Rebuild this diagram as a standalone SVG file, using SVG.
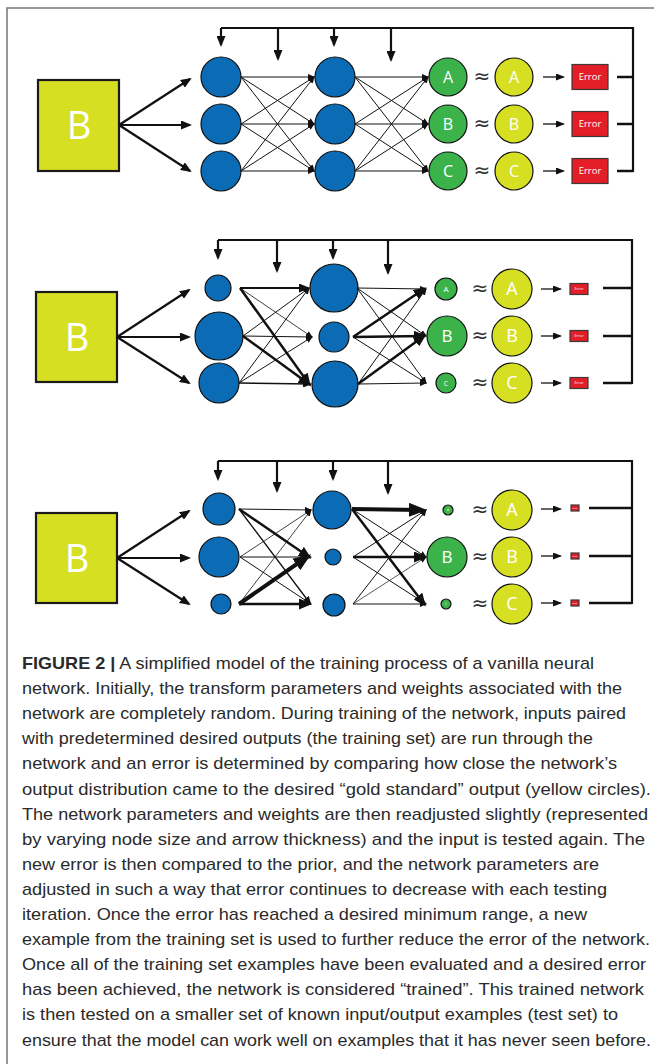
<svg xmlns="http://www.w3.org/2000/svg" width="654" height="1064" viewBox="0 0 654 1064">
<defs>
<style>
.nb{fill:#0b6bb5;stroke:#111;stroke-width:1.2}
.ng{fill:#3bb34a;stroke:#111;stroke-width:1.2}
.ny{fill:#d7df23;stroke:#111;stroke-width:1.2}
.inp{fill:#d6df22;stroke:#1a1a1a;stroke-width:2.2}
.err{fill:#e41e26;stroke:#3a3a3a;stroke-width:1.2}
.lbl{font-family:"Open Sans","Liberation Sans",sans-serif;fill:#fff;text-anchor:middle}
.ax{font-family:"DejaVu Sans","Liberation Sans",sans-serif;font-size:20px;fill:#333;text-anchor:middle}
.c{stroke:#111;fill:none}
.fb{stroke:#111;stroke-width:2.2;fill:none}
.tk{stroke:#111;stroke-width:2.5;fill:none}
.cap{font-family:"Liberation Sans",Arial,sans-serif;font-size:17px;fill:#2a2a2a}
</style>
<marker id="s" markerUnits="userSpaceOnUse" markerWidth="7" markerHeight="6" refX="6" refY="3" orient="auto"><path d="M0,0 L7,3 L0,6 z" fill="#111"/></marker>
<marker id="s2" markerUnits="userSpaceOnUse" markerWidth="9" markerHeight="7" refX="7.5" refY="3.5" orient="auto"><path d="M0,0 L9,3.5 L0,7 z" fill="#111"/></marker>
<marker id="m" markerUnits="userSpaceOnUse" markerWidth="11" markerHeight="9" refX="9" refY="4.5" orient="auto"><path d="M0,0 L11,4.5 L0,9 z" fill="#111"/></marker>
<marker id="l" markerUnits="userSpaceOnUse" markerWidth="13" markerHeight="11" refX="10" refY="5.5" orient="auto"><path d="M0,0 L13,5.5 L0,11 z" fill="#111"/></marker>
<marker id="xl" markerUnits="userSpaceOnUse" markerWidth="18" markerHeight="14" refX="13" refY="7" orient="auto"><path d="M0,0 L18,7 L0,14 z" fill="#111"/></marker>
</defs>
<rect width="654" height="1064" fill="#fff"/>
<path d="M7,1064 V8 H654" fill="none" stroke="#777" stroke-width="1.5"/>

<!-- ===== Panel 1 nodes ===== -->
<g id="p1-input"><rect class="inp" x="38" y="80" width="81" height="91"/><text class="lbl" x="79" y="138.5" font-size="38">B</text></g>
<g id="p1-h1-1"><circle class="nb" cx="221" cy="77" r="20"/></g>
<g id="p1-h1-2"><circle class="nb" cx="221" cy="124" r="20"/></g>
<g id="p1-h1-3"><circle class="nb" cx="221" cy="171" r="20"/></g>
<g id="p1-h2-1"><circle class="nb" cx="335" cy="77" r="20"/></g>
<g id="p1-h2-2"><circle class="nb" cx="335" cy="124" r="20"/></g>
<g id="p1-h2-3"><circle class="nb" cx="335" cy="171" r="20"/></g>
<g id="p1-out-a"><circle class="ng" cx="448" cy="77" r="19"/><text class="lbl" x="448" y="82.7" font-size="16">A</text></g>
<g id="p1-out-b"><circle class="ng" cx="448" cy="124" r="19"/><text class="lbl" x="448" y="129.7" font-size="16">B</text></g>
<g id="p1-out-c"><circle class="ng" cx="448" cy="171" r="19"/><text class="lbl" x="448" y="176.7" font-size="16">C</text></g>
<g id="p1-approx"><text class="ax" x="482" y="83">≈</text><text class="ax" x="482" y="130">≈</text><text class="ax" x="482" y="177">≈</text></g>
<g id="p1-gold-a"><circle class="ny" cx="514" cy="77" r="19"/><text class="lbl" x="514" y="82.7" font-size="16">A</text></g>
<g id="p1-gold-b"><circle class="ny" cx="514" cy="124" r="19"/><text class="lbl" x="514" y="129.7" font-size="16">B</text></g>
<g id="p1-gold-c"><circle class="ny" cx="514" cy="171" r="19"/><text class="lbl" x="514" y="176.7" font-size="16">C</text></g>
<g id="p1-err-a"><rect class="err" x="572" y="64.5" width="36" height="25"/><text class="lbl" x="590" y="80.3" font-size="9.5">Error</text></g>
<g id="p1-err-b"><rect class="err" x="572" y="111.5" width="36" height="25"/><text class="lbl" x="590" y="127.3" font-size="9.5">Error</text></g>
<g id="p1-err-c"><rect class="err" x="572" y="158.5" width="36" height="25"/><text class="lbl" x="590" y="174.3" font-size="9.5">Error</text></g>

<!-- ===== Panel 2 nodes ===== -->
<g id="p2-input"><rect class="inp" x="36" y="292" width="81" height="90"/><text class="lbl" x="77" y="350.5" font-size="38">B</text></g>
<g id="p2-h1-1"><circle class="nb" cx="218" cy="288" r="13"/></g>
<g id="p2-h1-2"><circle class="nb" cx="219" cy="336" r="24"/></g>
<g id="p2-h1-3"><circle class="nb" cx="219" cy="383" r="20"/></g>
<g id="p2-h2-1"><circle class="nb" cx="334" cy="288" r="24"/></g>
<g id="p2-h2-2"><circle class="nb" cx="334" cy="337" r="15"/></g>
<g id="p2-h2-3"><circle class="nb" cx="335" cy="384" r="23"/></g>
<g id="p2-out-a"><circle class="ng" cx="446" cy="289" r="11"/><text class="lbl" x="446" y="291.8" font-size="8">A</text></g>
<g id="p2-out-b"><circle class="ng" cx="447" cy="336" r="20"/><text class="lbl" x="447" y="342.1" font-size="17">B</text></g>
<g id="p2-out-c"><circle class="ng" cx="446" cy="383" r="10"/><text class="lbl" x="446" y="385.5" font-size="7">C</text></g>
<g id="p2-approx"><text class="ax" x="480" y="295">≈</text><text class="ax" x="480" y="342">≈</text><text class="ax" x="480" y="389">≈</text></g>
<g id="p2-gold-a"><circle class="ny" cx="512" cy="289" r="20"/><text class="lbl" x="512" y="295.4" font-size="18">A</text></g>
<g id="p2-gold-b"><circle class="ny" cx="512" cy="336" r="20"/><text class="lbl" x="512" y="342.4" font-size="18">B</text></g>
<g id="p2-gold-c"><circle class="ny" cx="512" cy="383" r="20"/><text class="lbl" x="512" y="389.4" font-size="18">C</text></g>
<g id="p2-err-a"><rect class="err" x="570" y="283.5" width="18" height="11"/><text class="lbl" x="579" y="290.2" font-size="3.8">Error</text></g>
<g id="p2-err-b"><rect class="err" x="570" y="330.5" width="18" height="11"/><text class="lbl" x="579" y="337.2" font-size="3.8">Error</text></g>
<g id="p2-err-c"><rect class="err" x="570" y="377.5" width="18" height="11"/><text class="lbl" x="579" y="384.2" font-size="3.8">Error</text></g>

<!-- ===== Panel 3 nodes ===== -->
<g id="p3-input"><rect class="inp" x="36" y="513" width="81" height="90"/><text class="lbl" x="77" y="571.5" font-size="38">B</text></g>
<g id="p3-h1-1"><circle class="nb" cx="219" cy="509" r="16"/></g>
<g id="p3-h1-2"><circle class="nb" cx="219" cy="557" r="20"/></g>
<g id="p3-h1-3"><circle class="nb" cx="221" cy="604" r="10"/></g>
<g id="p3-h2-1"><circle class="nb" cx="332" cy="510" r="19"/></g>
<g id="p3-h2-2"><circle class="nb" cx="333" cy="557" r="8"/></g>
<g id="p3-h2-3"><circle class="nb" cx="334" cy="605" r="11"/></g>
<g id="p3-out-a"><circle class="ng" cx="448" cy="510" r="5"/><text class="lbl" x="448" y="511.1" font-size="3">A</text></g>
<g id="p3-out-b"><circle class="ng" cx="447" cy="557" r="20"/><text class="lbl" x="447" y="563.1" font-size="17">B</text></g>
<g id="p3-out-c"><circle class="ng" cx="446" cy="604" r="5"/><text class="lbl" x="446" y="605.1" font-size="3">C</text></g>
<g id="p3-approx"><text class="ax" x="480" y="516">≈</text><text class="ax" x="480" y="563">≈</text><text class="ax" x="480" y="610">≈</text></g>
<g id="p3-gold-a"><circle class="ny" cx="512" cy="510" r="20"/><text class="lbl" x="512" y="516.4" font-size="18">A</text></g>
<g id="p3-gold-b"><circle class="ny" cx="512" cy="557" r="20"/><text class="lbl" x="512" y="563.4" font-size="18">B</text></g>
<g id="p3-gold-c"><circle class="ny" cx="512" cy="604" r="20"/><text class="lbl" x="512" y="610.4" font-size="18">C</text></g>
<g id="p3-err-a"><rect class="err" x="571" y="505" width="8" height="6"/><text class="lbl" x="575" y="508.7" font-size="2">Error</text></g>
<g id="p3-err-b"><rect class="err" x="571" y="553" width="8" height="6"/><text class="lbl" x="575" y="556.7" font-size="2">Error</text></g>
<g id="p3-err-c"><rect class="err" x="571" y="600" width="8" height="6"/><text class="lbl" x="575" y="603.7" font-size="2">Error</text></g>

<!-- ===== Connectors ===== -->
<g id="connectors">
<!-- panel 1 -->
<g class="c" stroke-width="2.2">
<line x1="119" y1="125" x2="190" y2="79" marker-end="url(#m)"/>
<line x1="119" y1="125" x2="190" y2="125" marker-end="url(#m)"/>
<line x1="119" y1="125" x2="190" y2="171" marker-end="url(#m)"/>
</g>
<g class="c" stroke-width="1">
<line x1="241" y1="77" x2="314" y2="77" marker-end="url(#s)"/>
<line x1="241" y1="77" x2="314" y2="124" marker-end="url(#s)"/>
<line x1="241" y1="77" x2="314" y2="171" marker-end="url(#s)"/>
<line x1="241" y1="124" x2="314" y2="77" marker-end="url(#s)"/>
<line x1="241" y1="124" x2="314" y2="124" marker-end="url(#s)"/>
<line x1="241" y1="124" x2="314" y2="171" marker-end="url(#s)"/>
<line x1="241" y1="171" x2="314" y2="77" marker-end="url(#s)"/>
<line x1="241" y1="171" x2="314" y2="124" marker-end="url(#s)"/>
<line x1="241" y1="171" x2="314" y2="171" marker-end="url(#s)"/>
<line x1="355" y1="77" x2="428" y2="77" marker-end="url(#s)"/>
<line x1="355" y1="77" x2="428" y2="124" marker-end="url(#s)"/>
<line x1="355" y1="77" x2="428" y2="171" marker-end="url(#s)"/>
<line x1="355" y1="124" x2="428" y2="77" marker-end="url(#s)"/>
<line x1="355" y1="124" x2="428" y2="124" marker-end="url(#s)"/>
<line x1="355" y1="124" x2="428" y2="171" marker-end="url(#s)"/>
<line x1="355" y1="171" x2="428" y2="77" marker-end="url(#s)"/>
<line x1="355" y1="171" x2="428" y2="124" marker-end="url(#s)"/>
<line x1="355" y1="171" x2="428" y2="171" marker-end="url(#s)"/>
</g>
<g class="c" stroke-width="1.3">
<line x1="543" y1="77" x2="563.5" y2="77" marker-end="url(#s2)"/>
<line x1="543" y1="124" x2="563.5" y2="124" marker-end="url(#s2)"/>
<line x1="543" y1="171" x2="563.5" y2="171" marker-end="url(#s2)"/>
</g>
<path class="fb" d="M221,28 H633 V172"/>
<g class="fb">
<line x1="221" y1="28" x2="221" y2="45" marker-end="url(#m)"/>
<line x1="278" y1="28" x2="278" y2="59" marker-end="url(#m)"/>
<line x1="334" y1="28" x2="334" y2="45" marker-end="url(#m)"/>
<line x1="391" y1="28" x2="391" y2="60" marker-end="url(#m)"/>
</g>
<g class="tk">
<line x1="617" y1="77" x2="633" y2="77"/>
<line x1="617" y1="124" x2="633" y2="124"/>
<line x1="617" y1="171" x2="633" y2="171"/>
</g>

<!-- panel 2 -->
<g class="c" stroke-width="2.2">
<line x1="117" y1="337" x2="189" y2="290" marker-end="url(#m)"/>
<line x1="117" y1="337" x2="189" y2="337" marker-end="url(#m)"/>
<line x1="117" y1="337" x2="189" y2="383" marker-end="url(#m)"/>
</g>
<g class="c">
<line x1="240" y1="288" x2="312" y2="337" stroke-width="0.8" marker-end="url(#s)"/>
<line x1="243" y1="336" x2="309" y2="288" stroke-width="1" marker-end="url(#s)"/>
<line x1="243" y1="336" x2="312" y2="337" stroke-width="1" marker-end="url(#s)"/>
<line x1="239" y1="383" x2="309" y2="288" stroke-width="1" marker-end="url(#s)"/>
<line x1="239" y1="383" x2="312" y2="337" stroke-width="1" marker-end="url(#s)"/>
<line x1="239" y1="383" x2="310.5" y2="384" stroke-width="1.5" marker-end="url(#s2)"/>
<line x1="240" y1="288" x2="308" y2="288" stroke-width="2" marker-end="url(#m)"/>
<line x1="240" y1="288" x2="309" y2="384" stroke-width="2.5" marker-end="url(#l)"/>
<line x1="243" y1="336" x2="309" y2="384" stroke-width="2.5" marker-end="url(#l)"/>

<line x1="357" y1="288" x2="426" y2="289" stroke-width="1" marker-end="url(#s)"/>
<line x1="357" y1="288" x2="426" y2="336" stroke-width="1" marker-end="url(#s)"/>
<line x1="357" y1="288" x2="426" y2="383" stroke-width="1" marker-end="url(#s)"/>
<line x1="353" y1="337" x2="426" y2="383" stroke-width="1" marker-end="url(#s)"/>
<line x1="358" y1="384" x2="426" y2="289" stroke-width="1" marker-end="url(#s)"/>
<line x1="358" y1="384" x2="426" y2="383" stroke-width="1" marker-end="url(#s)"/>
<line x1="353" y1="337" x2="424" y2="289" stroke-width="2.5" marker-end="url(#l)"/>
<line x1="353" y1="337" x2="424" y2="336" stroke-width="2.5" marker-end="url(#l)"/>
<line x1="358" y1="384" x2="424" y2="336" stroke-width="2.5" marker-end="url(#l)"/>
</g>
<g class="c" stroke-width="1.3">
<line x1="541" y1="289" x2="560.5" y2="289" marker-end="url(#s2)"/>
<line x1="541" y1="336" x2="560.5" y2="336" marker-end="url(#s2)"/>
<line x1="541" y1="383" x2="560.5" y2="383" marker-end="url(#s2)"/>
</g>
<path class="fb" d="M218,240 H632 V384"/>
<g class="fb">
<line x1="218" y1="240" x2="218" y2="258" marker-end="url(#m)"/>
<line x1="277" y1="240" x2="277" y2="271" marker-end="url(#m)"/>
<line x1="333" y1="240" x2="333" y2="258" marker-end="url(#m)"/>
<line x1="388" y1="240" x2="388" y2="273" marker-end="url(#m)"/>
</g>
<g class="tk">
<line x1="603" y1="288" x2="632" y2="288"/>
<line x1="603" y1="336" x2="632" y2="336"/>
<line x1="603" y1="383" x2="632" y2="383"/>
</g>

<!-- panel 3 -->
<g class="c" stroke-width="2.2">
<line x1="117" y1="558" x2="189" y2="511" marker-end="url(#m)"/>
<line x1="117" y1="558" x2="189" y2="558" marker-end="url(#m)"/>
<line x1="117" y1="558" x2="189" y2="604" marker-end="url(#m)"/>
</g>
<g class="c">
<line x1="239" y1="509" x2="311" y2="510" stroke-width="1" marker-end="url(#s)"/>
<line x1="239" y1="509" x2="310.5" y2="604" stroke-width="1.3" marker-end="url(#s2)"/>
<line x1="240" y1="557" x2="311" y2="510" stroke-width="0.8" marker-end="url(#s)"/>
<line x1="240" y1="557" x2="311" y2="557" stroke-width="1" marker-end="url(#s)"/>
<line x1="240" y1="557" x2="311" y2="604" stroke-width="1" marker-end="url(#s)"/>
<line x1="239" y1="604" x2="311" y2="510" stroke-width="0.8" marker-end="url(#s)"/>
<line x1="239" y1="509" x2="309" y2="557" stroke-width="2.5" marker-end="url(#l)"/>
<line x1="239" y1="604" x2="309" y2="604" stroke-width="2.5" marker-end="url(#l)"/>
<line x1="239" y1="604" x2="307" y2="557" stroke-width="4" marker-end="url(#xl)"/>

<line x1="352" y1="509" x2="426" y2="557" stroke-width="1" marker-end="url(#s)"/>
<line x1="353" y1="557" x2="426" y2="510" stroke-width="1" marker-end="url(#s)"/>
<line x1="353" y1="557" x2="426" y2="604" stroke-width="1" marker-end="url(#s)"/>
<line x1="353" y1="604" x2="426" y2="510" stroke-width="1" marker-end="url(#s)"/>
<line x1="353" y1="604" x2="426" y2="557" stroke-width="0.7" marker-end="url(#s)"/>
<line x1="353" y1="604" x2="426" y2="604" stroke-width="1" marker-end="url(#s)"/>
<line x1="352" y1="509" x2="424" y2="604" stroke-width="2.5" marker-end="url(#l)"/>
<line x1="353" y1="557" x2="424" y2="557" stroke-width="2.5" marker-end="url(#l)"/>
<line x1="352" y1="509" x2="422" y2="510" stroke-width="4" marker-end="url(#xl)"/>
</g>
<g class="c" stroke-width="1.3">
<line x1="541" y1="509" x2="560.5" y2="509" marker-end="url(#s2)"/>
<line x1="541" y1="556" x2="560.5" y2="556" marker-end="url(#s2)"/>
<line x1="541" y1="603" x2="560.5" y2="603" marker-end="url(#s2)"/>
</g>
<path class="fb" d="M218,461 H632 V604"/>
<g class="fb">
<line x1="218" y1="461" x2="218" y2="479" marker-end="url(#m)"/>
<line x1="277" y1="461" x2="277" y2="491" marker-end="url(#m)"/>
<line x1="333" y1="461" x2="333" y2="479" marker-end="url(#m)"/>
<line x1="388" y1="461" x2="388" y2="493" marker-end="url(#m)"/>
</g>
<g class="tk">
<line x1="589" y1="508" x2="632" y2="508"/>
<line x1="589" y1="556" x2="632" y2="556"/>
<line x1="589" y1="603" x2="632" y2="603"/>
</g>
</g>

<!-- ===== Caption ===== -->
<g id="caption" class="cap">
<text x="22" y="669" textLength="572" lengthAdjust="spacingAndGlyphs"><tspan font-weight="bold">FIGURE 2 |</tspan> A simplified model of the training process of a vanilla neural</text>
<text x="22" y="694.1" textLength="600" lengthAdjust="spacingAndGlyphs">network. Initially, the transform parameters and weights associated with the</text>
<text x="22" y="719.2" textLength="604" lengthAdjust="spacingAndGlyphs">network are completely random. During training of the network, inputs paired</text>
<text x="22" y="744.3" textLength="571" lengthAdjust="spacingAndGlyphs">with predetermined desired outputs (the training set) are run through the</text>
<text x="22" y="769.4" textLength="595" lengthAdjust="spacingAndGlyphs">network and an error is determined by comparing how close the network’s</text>
<text x="22" y="794.5" textLength="629" lengthAdjust="spacingAndGlyphs">output distribution came to the desired “gold standard” output (yellow circles).</text>
<text x="22" y="819.6" textLength="626" lengthAdjust="spacingAndGlyphs">The network parameters and weights are then readjusted slightly (represented</text>
<text x="22" y="844.7" textLength="623" lengthAdjust="spacingAndGlyphs">by varying node size and arrow thickness) and the input is tested again. The</text>
<text x="22" y="869.8" textLength="577" lengthAdjust="spacingAndGlyphs">new error is then compared to the prior, and the network parameters are</text>
<text x="22" y="894.9" textLength="585" lengthAdjust="spacingAndGlyphs">adjusted in such a way that error continues to decrease with each testing</text>
<text x="22" y="920" textLength="565" lengthAdjust="spacingAndGlyphs">iteration. Once the error has reached a desired minimum range, a new</text>
<text x="22" y="945.1" textLength="628" lengthAdjust="spacingAndGlyphs">example from the training set is used to further reduce the error of the network.</text>
<text x="22" y="970.2" textLength="624" lengthAdjust="spacingAndGlyphs">Once all of the training set examples have been evaluated and a desired error</text>
<text x="22" y="995.3" textLength="622" lengthAdjust="spacingAndGlyphs">has been achieved, the network is considered “trained”. This trained network</text>
<text x="22" y="1020.4" textLength="596" lengthAdjust="spacingAndGlyphs">is then tested on a smaller set of known input/output examples (test set) to</text>
<text x="22" y="1045.5" textLength="629" lengthAdjust="spacingAndGlyphs">ensure that the model can work well on examples that it has never seen before.</text>
</g>
</svg>
